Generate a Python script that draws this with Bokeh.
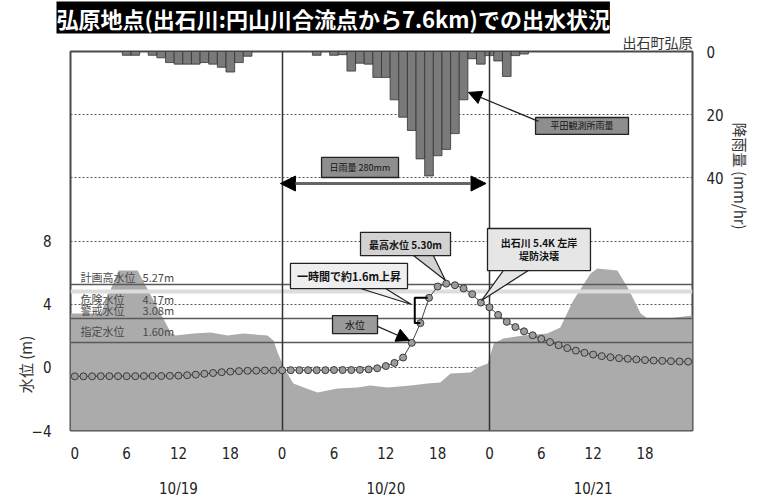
from math import pi

from bokeh.plotting import figure
from bokeh.models import Range1d, LinearAxis, FixedTicker, Title, Arrow, NormalHead
from bokeh.core.properties import value
from bokeh.embed import file_html
from bokeh.resources import INLINE

# ---------------------------------------------------------------- data
hours = list(range(72))  # 10/19 0:00 .. 10/21 23:00, hourly

# hourly rainfall at the Hirata gauge (mm/hr)
rain_mm = [
    0, 0, 0, 0, 0, 0, 1.2, 1.2, 0, 1.2, 2.0, 3.5,
    4.0, 4.0, 4.0, 3.5, 4.0, 5.0, 6.5, 3.5, 1.5, 0, 0, 0,
    0, 0, 0, 0, 1.2, 0, 1.2, 1.0, 6.2, 3.7, 4.0, 8.2,
    8.2, 15.3, 20.8, 25.0, 34.0, 39.4, 33.0, 31.0, 26.0, 15.3, 2.3, 4.0,
    1.3, 3.0, 7.9, 1.3, 0.8, 0, 0, 0, 0, 0, 0, 0,
    0, 0, 0, 0, 0, 0, 0, 0, 0, 0, 0, 0,
]

# hourly water level at Hirohara (m)
water_level_m = [
    -0.57, -0.57, -0.57, -0.56, -0.56, -0.56, -0.56, -0.56, -0.55, -0.55, -0.55, -0.54,
    -0.53, -0.50, -0.46, -0.41, -0.36, -0.31, -0.27, -0.24, -0.22, -0.21, -0.20, -0.20,
    -0.19, -0.18, -0.18, -0.18, -0.18, -0.18, -0.17, -0.17, -0.17, -0.16, -0.13, -0.06,
    0.08, 0.28, 0.62, 1.55, 2.80, 4.40, 5.12, 5.30, 5.20, 5.00, 4.63, 4.10,
    3.80, 3.32, 2.88, 2.55, 2.28, 2.03, 1.80, 1.60, 1.40, 1.22, 1.06, 0.92,
    0.81, 0.71, 0.64, 0.58, 0.54, 0.50, 0.46, 0.43, 0.41, 0.39, 0.37, 0.36,
]

# grey background profile
ground_hours = [
    -0.5, 3.0, 5.06, 7.26, 11.1, 11.65, 13.7, 15.7, 17.7, 19.5, 22.3, 23.0,
    23.5, 24.2, 25.3, 26.5, 28.1, 30.4, 32.7, 34.2, 36.2, 38.9, 40.8, 42.3,
    43.5, 45.8, 46.6, 47.8, 48.5, 49.6, 51.9, 54.7, 56.2, 57.7, 59.7, 60.5,
    62.8, 64.0, 65.5, 66.3, 68.6, 71.5,
]
ground_level_m = [
    3.41, 3.41, 6.13, 6.13, 2.21, 2.02, 2.14, 2.21, 2.02, 2.14, 2.02, 1.70,
    0.90, -0.01, -1.02, -1.28, -1.59, -1.34, -1.28, -1.15, -1.28, -1.15, -1.02, -0.96,
    -0.39, -0.33, -0.01, 0.24, 1.51, 1.83, 2.02, 2.14, 2.52, 4.23, 5.94, 6.26,
    6.13, 5.06, 3.41, 3.09, 3.09, 3.28,
]

# reference water levels
level_names = ["計画高水位", "危険水位", "警戒水位", "指定水位"]
level_values = [5.27, 4.17, 3.08, 1.60]
level_lines = [5.27, 3.08, 1.60]

x_tick_hours = list(range(0, 72, 6))
day_ticks = [12, 36, 60]
day_labels = ["10/19", "10/20", "10/21"]
day_starts = [24, 48]
daily_rain_mm = 280
peak_level_m = max(water_level_m)

JP = "Noto Sans CJK JP"
NUM = "Liberation Sans Narrow, DejaVu Sans Condensed, sans-serif"

# ---------------------------------------------------------------- figure
p = figure(
    width=765, height=501, output_backend="svg", toolbar_location=None,
    x_range=Range1d(-0.5, 71.5), y_range=Range1d(-4, 20), title=None,
    min_border_left=70, min_border_right=73, min_border_top=51, min_border_bottom=71,
)
p.extra_y_ranges = {"rain": Range1d(120, 0)}
p.background_fill_color = "white"
p.border_fill_color = "white"
p.outline_line_color = "#4a4a4a"
p.outline_line_width = 2

p.xgrid.visible = False
p.ygrid.ticker = FixedTicker(ticks=[0, 4, 8, 12, 16])
p.ygrid.grid_line_color = "#555555"
p.ygrid.grid_line_dash = "2 2"
p.ygrid.grid_line_width = 1


def style_axis(ax, standoff, font=NUM, size="15px"):
    ax.axis_line_color = None
    ax.major_tick_line_color = None
    ax.minor_tick_line_color = None
    ax.major_tick_out = 0
    ax.major_tick_in = 0
    ax.minor_tick_out = 0
    ax.minor_tick_in = 0
    ax.major_label_text_font = font
    ax.major_label_text_font_size = size
    ax.major_label_text_color = "#222222"
    ax.major_label_standoff = standoff


xa = p.xaxis[0]
xa.ticker = FixedTicker(ticks=x_tick_hours)
xa.major_label_overrides = {h: str(h % 24) for h in x_tick_hours}
style_axis(xa, 16)

date_axis = LinearAxis(ticker=FixedTicker(ticks=day_ticks),
                       major_label_overrides=dict(zip(day_ticks, day_labels)))
style_axis(date_axis, 18)
p.add_layout(date_axis, "below")

ya = p.yaxis[0]
ya.ticker = FixedTicker(ticks=[-4, 0, 4, 8])
style_axis(ya, 19)

# axis title for the water level, set beside the lower part of the scale
level_title_axis = LinearAxis(ticker=FixedTicker(ticks=[2.0]),
                              major_label_overrides={2.0: "水位 (m)"},
                              major_label_orientation=pi / 2)
style_axis(level_title_axis, 3, font=JP)
level_title_axis.major_label_text_color = "#333333"
p.add_layout(level_title_axis, "left")

rain_axis = LinearAxis(y_range_name="rain", ticker=FixedTicker(ticks=[0, 20, 40]))
style_axis(rain_axis, 14)
p.add_layout(rain_axis, "right")

rain_title_axis = LinearAxis(y_range_name="rain", ticker=FixedTicker(ticks=[22.5]),
                             major_label_overrides={22.5: "降雨量 (mm/hr)"},
                             major_label_orientation=-pi / 2)
style_axis(rain_title_axis, 14, font=JP)
rain_title_axis.major_label_text_color = "#333333"
p.add_layout(rain_title_axis, "right")

# titles: station name next to the frame, main heading above it
p.add_layout(Title(text="出石町弘原", align="right", text_font=JP,
                   text_font_size="14px", text_font_style="normal",
                   text_color="#333333", standoff=0), "above")
p.add_layout(Title(text="弘原地点(出石川:円山川合流点から7.6km)での出水状況",
                   align="left", offset=-14, text_font=JP, text_font_style="bold",
                   text_font_size="22px", text_color="white",
                   background_fill_color="black", padding=0, standoff=-8), "above")

# ---------------------------------------------------------------- glyphs
p.varea(x=ground_hours, y1=-4, y2=ground_level_m, fill_color="#ababab")

rain_h = [h for h, r in zip(hours, rain_mm) if r > 0]
rain_v = [r for r in rain_mm if r > 0]
p.vbar(x=rain_h, top=rain_v, bottom=0, width=1, y_range_name="rain",
       fill_color="#7a7a7a", line_color="#333333", line_width=0.8)

p.hspan(y=[4.83], line_color="#dcdcdc", line_width=4)
p.hspan(y=level_lines, line_color="#5a5a5a", line_width=1.3)
p.vspan(x=day_starts, line_color="#333333", line_width=1.5)

p.line(hours, water_level_m, line_color="#444444", line_width=1)
p.scatter(hours, water_level_m, size=7, marker="circle",
          fill_color="#9c9c9c", line_color="#3a3a3a", line_width=1)

# one-hour rise bracket (between 10/20 16:00 and 17:00)
p.line(x=[40, 39.35, 39.35, 40.85],
       y=[water_level_m[40], water_level_m[40], water_level_m[41], water_level_m[41]],
       line_color="black", line_width=2)

# reference level labels
for name, val, lv in zip(level_names, level_values, [5.75, 4.30, 3.60, 2.27]):
    p.text(x=[0.66], y=[lv], text=[name], text_align="left", text_baseline="middle",
           text_font=value(JP), text_font_size="11px", text_color="#4a4a4a")
    p.text(x=[7.84], y=[lv], text=[f"{val:.2f}m"], text_align="left",
           text_baseline="middle", text_font=value(JP), text_font_size="11px",
           text_color="#4a4a4a")


def box(left, right, bottom, top, fill, lw=1.3):
    p.quad(left=[left], right=[right], bottom=[bottom], top=[top],
           fill_color=fill, line_color="#222222", line_width=lw)


def tail(xs, ys, fill):
    p.patch(x=xs, y=ys, fill_color=fill, line_color="#222222", line_width=1.2)


def label(x, y, txt, size="10px", bold=True, color="#111111"):
    p.text(x=[x], y=[y], text=[txt], text_align="center", text_baseline="middle",
           text_font=value(JP), text_font_size=size,
           text_font_style="bold" if bold else "normal", text_color=color)


# peak level callout
box(33.07, 43.49, 7.08, 8.54, "#d2d2d2")
tail([39.2, 42.91, 41.5], [7.08, 5.5, 7.08], "#d2d2d2")
label(38.28, 7.81, f"最高水位 {peak_level_m:.2f}m")

# one-hour rise callout
box(24.96, 38.51, 4.99, 6.58, "#eeeeee")
tail([33.07, 38.97, 35.96], [4.99, 3.98, 4.99], "#eeeeee")
label(31.74, 5.78, "一時間で約1.6m上昇", size="11px")

# levee breach callout
box(47.77, 59.69, 6.13, 8.79, "#e6e6e6")
tail([49.6, 47.08, 52.5], [6.13, 4.23, 6.13], "#e6e6e6")
label(53.73, 7.93, "出石川 5.4K 左岸")
label(53.73, 7.08, "堤防決壊")

# water level tag
box(29.83, 35.04, 2.14, 3.28, "#9a9a9a")
label(32.44, 2.71, "水位", bold=False)
p.add_layout(Arrow(end=NormalHead(size=13, fill_color="black", line_color="black"),
                   x_start=35.04, y_start=2.59, x_end=38.74, y_end=1.70,
                   line_color="#222222", line_width=1.3))

# daily rainfall span
box(28.56, 37.47, 12.02, 13.29, "#8e8e8e")
label(33.0, 12.65, f"日雨量 {daily_rain_mm}mm", size="9px", bold=False)
p.add_layout(Arrow(start=NormalHead(size=15, fill_color="black", line_color="black"),
                   end=NormalHead(size=15, fill_color="black", line_color="black"),
                   x_start=23.8, y_start=11.64, x_end=47.6, y_end=11.64,
                   line_color="#666666", line_width=3))

# rain gauge tag
box(53.33, 64.09, 14.75, 15.82, "#8e8e8e")
label(58.7, 15.29, "平田観測所雨量", size="9px", bold=False)
p.add_layout(Arrow(end=NormalHead(size=13, fill_color="black", line_color="black"),
                   x_start=53.68, y_start=15.57, x_end=45.57, y_end=17.41,
                   line_color="#222222", line_width=1.3))

open("out.html", "w").write(file_html(p, INLINE))
